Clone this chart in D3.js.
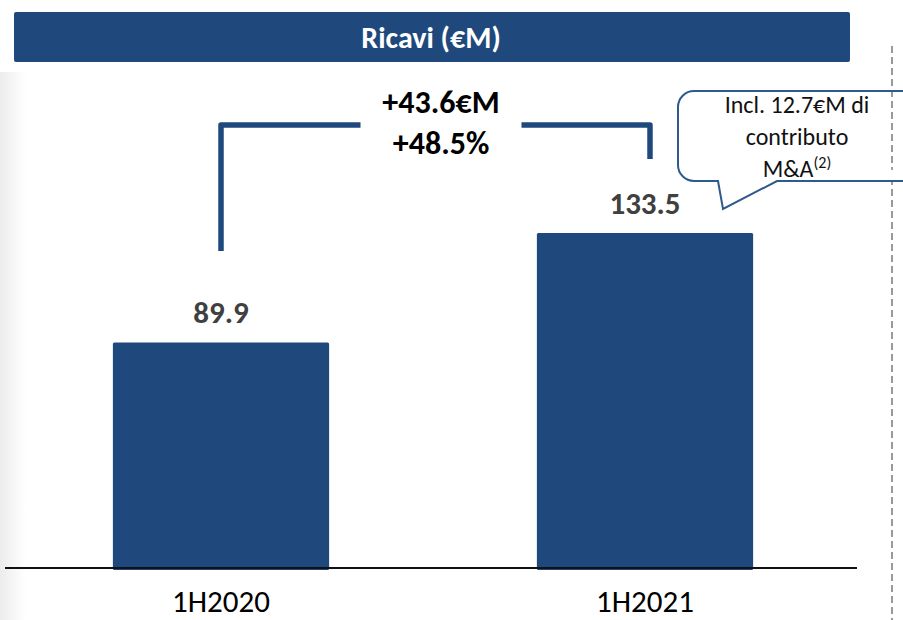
<!DOCTYPE html>
<html><head><meta charset="utf-8">
<script src="https://cdn.jsdelivr.net/npm/d3@7"></script>
<style>
html,body{margin:0;padding:0;background:#fff;}
svg{display:block;font-family:Carlito, Lato, "Open Sans", sans-serif;}
</style></head>
<body><svg id="c" width="903" height="620"></svg>
<script>
const categories = ["1H2020", "1H2021"];
const revenues = [89.9, 133.5];
const valueLabels = ["89.9", "133.5"];
const title = "Ricavi (€M)";
const deltaLabels = ["+43.6€M", "+48.5%"];
const calloutLines = ["Incl. 12.7€M di", "contributo", "M&A"];
const calloutSup = "(2)";

const navy = "#1f497d";
const svg = d3.select("#c");

// left soft shadow
const defs = svg.append("defs");
const g1 = defs.append("linearGradient").attr("id","sh").attr("x1",0).attr("x2",1);
g1.append("stop").attr("offset",0).attr("stop-color","#ececec");
g1.append("stop").attr("offset",1).attr("stop-color","#ffffff");
svg.append("rect").attr("x",0).attr("y",72).attr("width",26).attr("height",548).attr("fill","url(#sh)");

// dashed separator
svg.append("line").attr("x1",892).attr("x2",892).attr("y1",46).attr("y2",620)
  .attr("stroke","#9a9a9a").attr("stroke-width",2).attr("stroke-dasharray","7,4");

// header
svg.append("rect").attr("x",14).attr("y",12).attr("width",836).attr("height",50).attr("rx",2).attr("fill",navy);
svg.append("text").attr("x",431).attr("y",48).attr("text-anchor","middle")
  .attr("fill","#fff").attr("font-weight","bold").attr("font-size",30).text(title);

const x = d3.scaleBand().domain(categories).range([9,857]).paddingInner(0.49).paddingOuter(0.245);
const y = d3.scaleLinear().domain([0, 133.5]).range([568, 233]);
const cx = c => x(c) + x.bandwidth()/2;

// bars
svg.selectAll("rect.bar").data(categories).join("rect").attr("class","bar")
  .attr("x", d => x(d)).attr("width", x.bandwidth())
  .attr("y", (d,i) => y(revenues[i])).attr("height", (d,i) => y(0) - y(revenues[i]) + 2)
  .attr("rx",1.5).attr("fill", navy);

// baseline
svg.append("line").attr("x1",5).attr("x2",857).attr("y1",y(0)).attr("y2",y(0))
  .attr("stroke","#111").attr("stroke-width",2);

// value labels
svg.selectAll("text.val").data(categories).join("text").attr("class","val")
  .attr("x", d => cx(d)).attr("y", (d,i) => y(revenues[i]) - 19)
  .attr("text-anchor","middle").attr("font-weight","bold").attr("font-size",31)
  .attr("fill","#404040").text((d,i) => valueLabels[i]);

// category axis
const ax = svg.append("g").attr("transform",`translate(0,${y(0)})`)
  .call(d3.axisBottom(x).tickSize(0).tickPadding(22));
ax.select(".domain").remove();
ax.selectAll("text").attr("font-size",31).attr("fill","#000")
  .attr("font-family","Carlito, Lato, sans-serif");

// delta bracket
const bx1 = cx(categories[0]), bx2 = cx(categories[1]) + 5;
const topY = 125;
const mid = (bx1 + bx2) / 2 + 5;
const bpath = d3.path();
bpath.moveTo(bx1, 251); bpath.lineTo(bx1, topY); bpath.lineTo(mid - 80, topY);
bpath.moveTo(mid + 81, topY); bpath.lineTo(bx2, topY); bpath.lineTo(bx2, 159);
svg.append("path").attr("d", bpath.toString()).attr("fill","none")
  .attr("stroke", navy).attr("stroke-width",5.5).attr("stroke-linejoin","round");
svg.selectAll("text.delta").data(deltaLabels).join("text").attr("class","delta")
  .attr("x", 441).attr("y", (d,i) => 113 + i*41)
  .attr("text-anchor","middle").attr("font-weight","bold").attr("font-size",32)
  .attr("fill","#000").text(d => d);

// callout
const cp = d3.path();
const L = 678, T = 91, B = 181, R = 920, r = 16;
cp.moveTo(L + r, T);
cp.lineTo(R, T);
cp.moveTo(R, B);
cp.lineTo(777, B);
cp.lineTo(723, 209);
cp.lineTo(718, B);
cp.lineTo(L + r, B);
cp.arcTo(L, B, L, B - r, r);
cp.lineTo(L, T + r);
cp.arcTo(L, T, L + r, T, r);
svg.append("path").attr("d", cp.toString()).attr("fill","#fff")
  .attr("stroke","#2e5a8e").attr("stroke-width",2);
const ct = svg.append("g").attr("font-size",24).attr("fill","#111").attr("text-anchor","middle");
calloutLines.forEach((t,i) => {
  const tx = ct.append("text").attr("x", 797).attr("y", 113 + i*32).text(t);
  if (i === 2) tx.append("tspan").attr("dy",-9).attr("font-size",16).text(calloutSup);
});
</script></body></html>
